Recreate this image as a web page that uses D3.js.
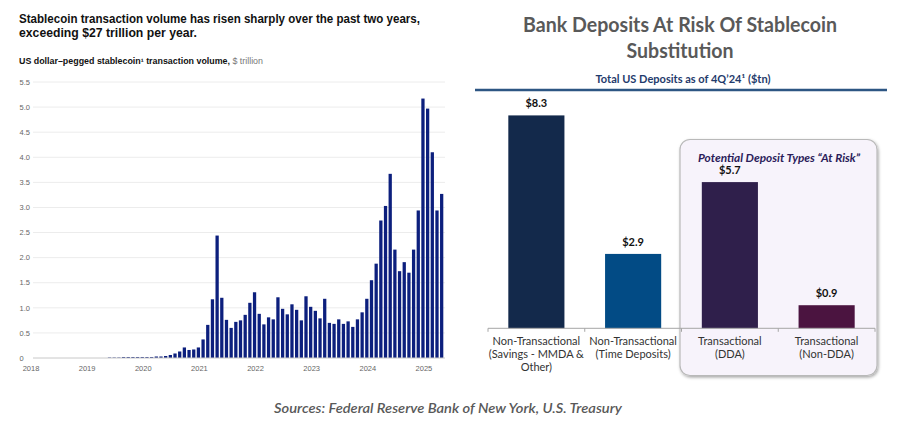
<!DOCTYPE html>
<html>
<head>
<meta charset="utf-8">
<script src="https://cdn.jsdelivr.net/npm/d3@7"></script>
<style>
  html, body { margin: 0; padding: 0; background: #fff; }
  svg { display: block; }
</style>
</head>
<body>
<div id="chart"></div>
<script>
// Left panel: monthly stablecoin volume, $ trillion, Jan 2018 .. May 2025
const volumes = [
    0, 0, 0, 0, 0, 0, 0, 0, 0, 0, 0, 0, 0, 0, 0, 0, 0,
    0.01, 0.01, 0.01, 0.02, 0.02, 0.02, 0.02, 0.02, 0.02, 0.02, 0.03, 0.03, 0.04, 0.06,
    0.09, 0.13, 0.21, 0.16, 0.17, 0.21, 0.37, 0.66, 1.17, 2.44,
    1.20, 0.76, 0.60, 0.72, 0.75, 0.86, 1.10, 1.31, 0.88, 0.67,
    0.81, 0.77, 1.21, 0.98, 0.87, 1.07, 0.96, 0.75, 1.23, 1.02,
    0.94, 0.79, 1.18, 0.70, 0.68, 0.77, 0.68, 0.73, 0.62, 0.77,
    0.91, 1.18, 1.55, 1.88, 2.74, 3.03, 3.67, 2.16, 1.73, 1.91,
    1.70, 2.16, 2.94, 5.17, 4.97, 4.10, 2.94, 3.27
];
const months = d3.timeMonth.range(new Date(2018, 0, 1), new Date(2025, 5, 1));
const yearLabels = ["2018", "2019", "2020", "2021", "2022", "2023", "2024", "2025"];
const volumeTicks = [0, 0.5, 1.0, 1.5, 2.0, 2.5, 3.0, 3.5, 4.0, 4.5, 5.0, 5.5];

// Right panel: total US deposits, 4Q'24, $tn
const depositCategories = [
    ["Non-Transactional", "(Savings - MMDA &", "Other)"],
    ["Non-Transactional", "(Time Deposits)"],
    ["Transactional", "(DDA)"],
    ["Transactional", "(Non-DDA)"]
];
const depositValues = [8.3, 2.9, 5.7, 0.9];
const depositColors = ["#13294b", "#024b85", "#2f1f4b", "#4b1440"];

const width = 924;
const height = 429;

const svg = d3.select("#chart")
    .append("svg")
    .attr("width", width)
    .attr("height", height);

svg.append("rect").attr("width", width).attr("height", height).attr("fill", "#fff");

// squeeze a text to a measured width
const fit = (sel, w) => {
    sel.attr("textLength", w).attr("lengthAdjust", "spacingAndGlyphs");
    return sel;
};

// ---------- left chart ----------
const leftFont = "'Liberation Sans', Arial, sans-serif";
const step = 4.678;
const x0 = 30;

fit(svg.append("text")
    .attr("x", 19).attr("y", 22.5)
    .attr("font-family", leftFont).attr("font-weight", "bold")
    .attr("font-size", 12.5).attr("fill", "#111")
    .text("Stablecoin transaction volume has risen sharply over the past two years,"), 401);
fit(svg.append("text")
    .attr("x", 19).attr("y", 36.5)
    .attr("font-family", leftFont).attr("font-weight", "bold")
    .attr("font-size", 12.5).attr("fill", "#111")
    .text("exceeding $27 trillion per year."), 178);

const sub = svg.append("text")
    .attr("x", 19).attr("y", 64)
    .attr("font-family", leftFont).attr("font-size", 8.5);
sub.append("tspan").attr("font-weight", "bold").attr("fill", "#111")
    .text("US dollar\u2013pegged stablecoin\u00b9 transaction volume, ");
sub.append("tspan").attr("fill", "#777").text("$ trillion");
fit(sub, 244);

const xLeft = d3.scaleBand()
    .domain(d3.range(volumes.length))
    .range([x0 - step / 2, x0 + (volumes.length - 1) * step + step / 2])
    .paddingInner(0.3)
    .paddingOuter(0.15);

const yLeft = d3.scaleLinear().domain([0, 5.5]).range([358, 82]);

const grid = svg.append("g");
grid.selectAll("line")
    .data(volumeTicks.filter(d => d > 0))
    .join("line")
    .attr("x1", 33).attr("x2", 445)
    .attr("y1", d => yLeft(d)).attr("y2", d => yLeft(d))
    .attr("stroke", "#ececec").attr("stroke-width", 1);

svg.append("g").selectAll("text")
    .data(volumeTicks)
    .join("text")
    .attr("x", 19.5)
    .attr("y", d => yLeft(d) + 2.7)
    .attr("font-family", leftFont).attr("font-size", 7.5).attr("fill", "#666")
    .text(d => d === 0 ? "0" : d3.format(".1f")(d));

svg.append("g").selectAll("rect")
    .data(volumes)
    .join("rect")
    .attr("x", (d, i) => xLeft(i))
    .attr("width", xLeft.bandwidth())
    .attr("y", d => yLeft(d))
    .attr("height", d => yLeft(0) - yLeft(d))
    .attr("fill", "#0c1f7d");

svg.append("line")
    .attr("x1", 33).attr("x2", 445)
    .attr("y1", yLeft(0)).attr("y2", yLeft(0))
    .attr("stroke", "#c8c8c8").attr("stroke-width", 1);

svg.append("g").selectAll("text")
    .data(yearLabels)
    .join("text")
    .attr("x", (d, i) => xLeft(i * 12) + xLeft.bandwidth() / 2 + 1)
    .attr("y", 371)
    .attr("text-anchor", "middle")
    .attr("font-family", leftFont).attr("font-size", 7.5).attr("fill", "#666")
    .text(d => d);

// ---------- right chart ----------
const rightFont = "Lato, 'Open Sans', sans-serif";

fit(svg.append("text")
    .attr("x", 680).attr("y", 32)
    .attr("text-anchor", "middle")
    .attr("font-family", rightFont).attr("font-weight", "bold")
    .attr("font-size", 20).attr("fill", "#595959")
    .text("Bank Deposits At Risk Of Stablecoin"), 314);
fit(svg.append("text")
    .attr("x", 680).attr("y", 58)
    .attr("text-anchor", "middle")
    .attr("font-family", rightFont).attr("font-weight", "bold")
    .attr("font-size", 20).attr("fill", "#595959")
    .text("Substitution"), 107);

fit(svg.append("text")
    .attr("x", 683).attr("y", 82.5)
    .attr("text-anchor", "middle")
    .attr("font-family", rightFont).attr("font-weight", "bold")
    .attr("font-size", 11).attr("fill", "#1f3b6c")
    .text("Total US Deposits as of 4Q\u201924\u00b9 ($tn)"), 175);

svg.append("line")
    .attr("x1", 475).attr("x2", 887)
    .attr("y1", 90).attr("y2", 90)
    .attr("stroke", "#2d5683").attr("stroke-width", 2.5);

// rounded "at risk" box with a soft shadow
const defs = svg.append("defs");
const shadow = defs.append("filter").attr("id", "shadow")
    .attr("x", "-10%").attr("y", "-10%").attr("width", "120%").attr("height", "120%");
shadow.append("feDropShadow")
    .attr("dx", 1).attr("dy", 1.5).attr("stdDeviation", 1.5)
    .attr("flood-color", "#000").attr("flood-opacity", 0.35);

svg.append("rect")
    .attr("x", 680).attr("y", 139.5)
    .attr("width", 197).attr("height", 236)
    .attr("rx", 10).attr("ry", 10)
    .attr("fill", "#f7f3fb")
    .attr("stroke", "#b9b9b9").attr("stroke-width", 1.2)
    .attr("filter", "url(#shadow)");

fit(svg.append("text")
    .attr("x", 779).attr("y", 161.5)
    .attr("text-anchor", "middle")
    .attr("font-family", rightFont).attr("font-weight", "bold").attr("font-style", "italic")
    .attr("font-size", 11).attr("fill", "#2b1c5a")
    .text("Potential Deposit Types \u201cAt Risk\u201d"), 162);

const xRight = d3.scaleBand()
    .domain(d3.range(depositValues.length))
    .range([488, 875])
    .paddingInner(0.42)
    .paddingOuter(0.21);

const yRight = d3.scaleLinear().domain([0, 9]).range([328.3, 328.3 - 9 * 25.65]);

svg.append("g").selectAll("rect")
    .data(depositValues)
    .join("rect")
    .attr("x", (d, i) => xRight(i))
    .attr("width", xRight.bandwidth())
    .attr("y", d => yRight(d))
    .attr("height", d => yRight(0) - yRight(d))
    .attr("fill", (d, i) => depositColors[i]);

svg.append("g").selectAll("text")
    .data(depositValues)
    .join("text")
    .attr("x", (d, i) => xRight(i) + xRight.bandwidth() / 2)
    .attr("y", d => yRight(d) - 8)
    .attr("text-anchor", "middle")
    .attr("font-family", rightFont).attr("font-weight", "bold")
    .attr("font-size", 11).attr("fill", "#111")
    .text(d => "$" + d3.format(".1f")(d));

// category axis with ticks between groups
const axisY = yRight(0);
svg.append("line")
    .attr("x1", 488).attr("x2", 875)
    .attr("y1", axisY).attr("y2", axisY)
    .attr("stroke", "#a6a6a6").attr("stroke-width", 1);
const bounds = d3.range(depositValues.length + 1).map(i => 488 + i * xRight.step());
svg.append("g").selectAll("line")
    .data(bounds)
    .join("line")
    .attr("x1", d => d).attr("x2", d => d)
    .attr("y1", axisY).attr("y2", axisY + 3.5)
    .attr("stroke", "#a6a6a6").attr("stroke-width", 1);

const catLabels = svg.append("g").selectAll("text")
    .data(depositCategories)
    .join("text")
    .attr("text-anchor", "middle")
    .attr("font-family", rightFont).attr("font-size", 11).attr("fill", "#333");
catLabels.each(function (lines, i) {
    const cx = xRight(i) + xRight.bandwidth() / 2;
    d3.select(this).selectAll("tspan")
        .data(lines)
        .join("tspan")
        .attr("x", cx)
        .attr("y", (d, j) => 345 + j * 13.2)
        .text(d => d);
});

// source line
fit(svg.append("text")
    .attr("x", 448).attr("y", 413)
    .attr("text-anchor", "middle")
    .attr("font-family", rightFont).attr("font-style", "italic").attr("font-weight", "600")
    .attr("font-size", 13).attr("fill", "#595959")
    .text("Sources: Federal Reserve Bank of New York, U.S. Treasury"), 348);
</script>
</body>
</html>
